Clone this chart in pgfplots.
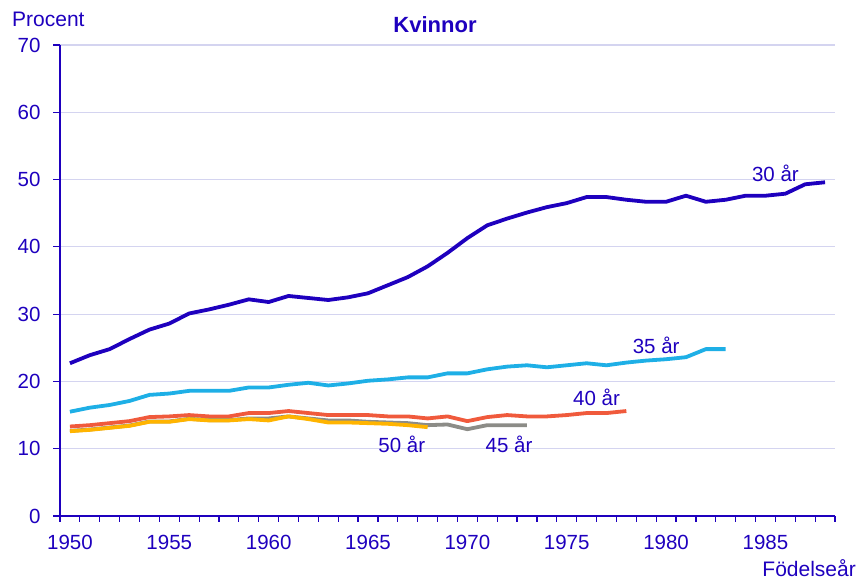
\documentclass[border=0pt]{standalone}
\usepackage{pgfplots}
\pgfplotsset{compat=1.18}
\usepackage{fontspec}
\setmainfont{Liberation Sans}
\definecolor{scbblue}{HTML}{1E00BE}
\definecolor{scblight}{HTML}{1EAFE6}
\definecolor{scbred}{HTML}{F05A3C}
\definecolor{scbgray}{HTML}{8C8C87}
\definecolor{scborange}{HTML}{FFB400}
\definecolor{gridc}{HTML}{D4D4F0}
\begin{document}
\begin{tikzpicture}
\begin{axis}[
  scale only axis, width=775pt, height=471pt,
  at={(0,0)}, anchor=south west,
  xmin=1949.5, xmax=1988.5, ymin=0, ymax=70,
  axis lines*=left,
  axis line style={scbblue, line width=1.2pt},
  xtick={1950,1955,...,1985},
  minor xtick={1949.5,1950.5,...,1988.5},
  ytick={0,10,...,70},
  major x tick style={draw=none},
  minor x tick style={scbblue, line width=1.2pt},
  major y tick style={scbblue, line width=1.2pt},
  minor tick length=6pt, major tick length=7pt,
  tick align=outside,
  ymajorgrids, grid style={gridc, line width=1.2pt},
  x tick label style={/pgf/number format/1000 sep={}, font=\fontsize{20.5}{22}\selectfont, text=scbblue, yshift=-9pt},
  y tick label style={font=\fontsize{20.5}{22}\selectfont, text=scbblue, xshift=-9pt},
  /pgf/number format/assume math mode=true,
  clip=false,
  every axis plot/.append style={line width=3.8pt, line join=round, no marks},
]
\addplot[scbblue] table {
1950 22.7
1951 23.9
1952 24.8
1953 26.3
1954 27.7
1955 28.6
1956 30.1
1957 30.7
1958 31.4
1959 32.2
1960 31.8
1961 32.7
1962 32.4
1963 32.1
1964 32.5
1965 33.1
1966 34.3
1967 35.5
1968 37.1
1969 39.1
1970 41.3
1971 43.2
1972 44.2
1973 45.1
1974 45.9
1975 46.5
1976 47.4
1977 47.4
1978 47.0
1979 46.7
1980 46.7
1981 47.6
1982 46.7
1983 47.0
1984 47.6
1985 47.6
1986 47.9
1987 49.3
1988 49.6
};
\addplot[scblight] table {
1950 15.5
1951 16.1
1952 16.5
1953 17.1
1954 18.0
1955 18.2
1956 18.6
1957 18.6
1958 18.6
1959 19.1
1960 19.1
1961 19.5
1962 19.8
1963 19.4
1964 19.7
1965 20.1
1966 20.3
1967 20.6
1968 20.6
1969 21.2
1970 21.2
1971 21.8
1972 22.2
1973 22.4
1974 22.1
1975 22.4
1976 22.7
1977 22.4
1978 22.8
1979 23.1
1980 23.3
1981 23.6
1982 24.8
1983 24.8
};
\addplot[scbred] table {
1950 13.3
1951 13.5
1952 13.8
1953 14.1
1954 14.7
1955 14.8
1956 15.0
1957 14.8
1958 14.8
1959 15.3
1960 15.3
1961 15.6
1962 15.3
1963 15.0
1964 15.0
1965 15.0
1966 14.8
1967 14.8
1968 14.5
1969 14.8
1970 14.1
1971 14.7
1972 15.0
1973 14.8
1974 14.8
1975 15.0
1976 15.3
1977 15.3
1978 15.6
};
\addplot[scbgray] table {
1950 12.65
1951 12.85
1952 13.15
1953 13.45
1954 14.05
1955 14.05
1956 14.45
1957 14.25
1958 14.25
1959 14.5
1960 14.5
1961 14.8
1962 14.5
1963 14.2
1964 14.2
1965 14.0
1966 13.9
1967 13.8
1968 13.5
1969 13.6
1970 12.9
1971 13.5
1972 13.5
1973 13.5
};
\addplot[scborange] table {
1950 12.6
1951 12.8
1952 13.1
1953 13.4
1954 14.0
1955 14.0
1956 14.4
1957 14.2
1958 14.2
1959 14.4
1960 14.2
1961 14.8
1962 14.4
1963 13.9
1964 13.9
1965 13.8
1966 13.7
1967 13.5
1968 13.2
};
\node[text=scbblue, font=\fontsize{20.5}{22}\selectfont] at (axis cs:1985.5,51.0) {30 år};
\node[text=scbblue, font=\fontsize{20.5}{22}\selectfont] at (axis cs:1979.5,25.3) {35 år};
\node[text=scbblue, font=\fontsize{20.5}{22}\selectfont] at (axis cs:1976.5,17.7) {40 år};
\node[text=scbblue, font=\fontsize{20.5}{22}\selectfont] at (axis cs:1966.7,10.7) {50 år};
\node[text=scbblue, font=\fontsize{20.5}{22}\selectfont] at (axis cs:1972.1,10.7) {45 år};
\end{axis}
\node[anchor=west, text=scbblue, font=\fontsize{21}{23}\selectfont, inner sep=0pt] at (-48pt,497pt) {Procent};
\node[text=scbblue, font=\fontsize{22}{24}\selectfont\bfseries] at (375pt,491pt) {Kvinnor};
\node[anchor=east, text=scbblue, font=\fontsize{21}{23}\selectfont, inner sep=0pt] at (796pt,-52pt) {Födelseår};
\pgfresetboundingbox
\path[use as bounding box] (-60pt,-64pt) rectangle (801pt,516pt);
\end{tikzpicture}
\end{document}
